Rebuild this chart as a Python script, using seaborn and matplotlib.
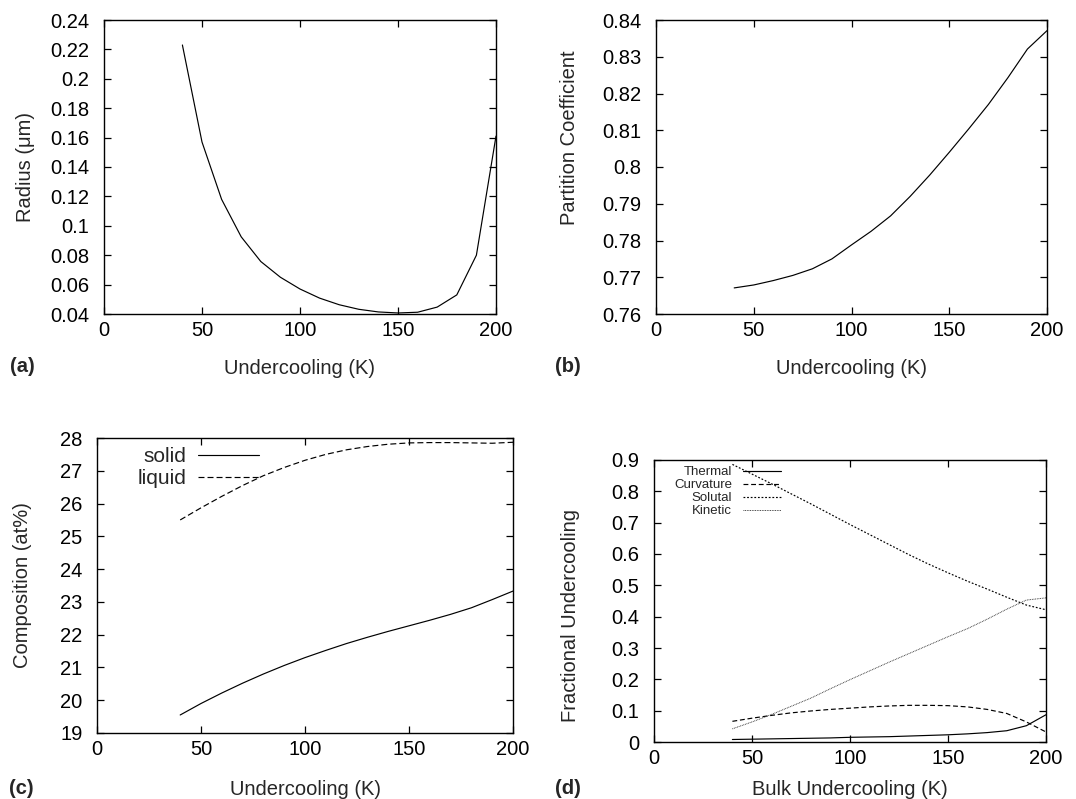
import numpy as np
import pandas as pd
import matplotlib
matplotlib.use("Agg")
import matplotlib.pyplot as plt
from matplotlib.ticker import FuncFormatter, MultipleLocator
import seaborn as sns

# ---------------- data ----------------
undercooling = [40, 50, 60, 70, 80, 90, 100, 110, 120, 130, 140, 150, 160, 170, 180, 190, 200]

radius_um = [0.223, 0.157, 0.118, 0.0925, 0.0757, 0.065, 0.057, 0.0508, 0.0463, 0.0432,
             0.0414, 0.0407, 0.0412, 0.0447, 0.053, 0.080, 0.161]

partition_coeff = [0.7671, 0.7679, 0.7691, 0.7705, 0.7723, 0.7750, 0.7788, 0.7825, 0.7867,
                   0.7920, 0.7978, 0.8040, 0.8104, 0.8170, 0.8243, 0.8321, 0.8371]

comp_solid = [19.55, 19.90, 20.22, 20.52, 20.80, 21.06, 21.30, 21.52, 21.73, 21.92, 22.10,
              22.27, 22.44, 22.62, 22.82, 23.07, 23.33]
comp_liquid = [25.50, 25.87, 26.22, 26.55, 26.85, 27.10, 27.32, 27.50, 27.64, 27.74, 27.81,
               27.85, 27.86, 27.86, 27.85, 27.84, 27.87]

frac_thermal = [0.008, 0.009, 0.010, 0.011, 0.012, 0.013, 0.015, 0.016, 0.017, 0.019, 0.021,
                0.023, 0.026, 0.030, 0.036, 0.052, 0.087]
frac_curvature = [0.066, 0.076, 0.085, 0.093, 0.099, 0.104, 0.108, 0.112, 0.115, 0.117, 0.117,
                  0.116, 0.112, 0.104, 0.091, 0.064, 0.032]
frac_solutal = [0.886, 0.855, 0.824, 0.792, 0.760, 0.727, 0.694, 0.662, 0.630, 0.598, 0.568,
                0.540, 0.513, 0.488, 0.462, 0.437, 0.422]
frac_kinetic = [0.042, 0.064, 0.088, 0.114, 0.140, 0.170, 0.199, 0.227, 0.255, 0.282, 0.309,
                0.336, 0.362, 0.392, 0.424, 0.453, 0.460]

xticks = [0, 50, 100, 150, 200]

# ---------------- style ----------------
sns.set_theme(style="ticks")
plt.rcParams["font.family"] = ["Liberation Sans", "DejaVu Sans"]
plt.rcParams["lines.scale_dashes"] = False

FS = 14.5
W, H = 1076, 799
fig = plt.figure(figsize=(W / 100, H / 100), dpi=100)


def rect(l, t, r, b):
    return [l / W, 1 - b / H, (r - l) / W, (b - t) / H]


fmt = FuncFormatter(lambda v, p: f"{round(v, 6):g}")


def style_axes(ax, ylim, ystep):
    ax.set_xlim(0, 200)
    ax.set_xticks(xticks)
    ax.set_ylim(*ylim)
    ax.yaxis.set_major_locator(MultipleLocator(ystep))
    ax.yaxis.set_major_formatter(fmt)
    ax.xaxis.set_major_formatter(fmt)
    ax.tick_params(direction="in", length=5, width=0.9, top=True, right=True,
                   labelsize=FS, colors="black")
    ax.tick_params(axis="y", pad=10.5)
    ax.tick_params(axis="x", pad=5)
    for s in ax.spines.values():
        s.set_visible(True)
        s.set_linewidth(1.0)
        s.set_color("black")
    ax.set_facecolor("white")


def set_labels(ax, xlabel, xy, ylabel, yx, yy=0.5):
    ax.set_xlabel(xlabel, fontsize=FS)
    ax.xaxis.set_label_coords(0.5, xy)
    ax.xaxis.label.set_va("center")
    ax.set_ylabel(ylabel, fontsize=FS)
    ax.yaxis.set_label_coords(yx, yy)
    ax.yaxis.label.set_va("center")


lw = 0.85

# (a)
ax_a = fig.add_axes(rect(104, 20, 496, 314))
sns.lineplot(x=undercooling, y=radius_um, ax=ax_a, color="black", linewidth=lw)
style_axes(ax_a, (0.04, 0.24), 0.02)
set_labels(ax_a, "Undercooling (K)", -0.187, "Radius (\u03bcm)", -0.2015)

# (b)
ax_b = fig.add_axes(rect(656, 20, 1047, 314))
sns.lineplot(x=undercooling, y=partition_coeff, ax=ax_b, color="black", linewidth=lw)
style_axes(ax_b, (0.76, 0.84), 0.01)
set_labels(ax_b, "Undercooling (K)", -0.187, "Partition Coefficient", -0.22, 0.6)

# (c)
ax_c = fig.add_axes(rect(97, 438, 513, 733))
sns.lineplot(x=undercooling, y=comp_solid, ax=ax_c, color="black", linewidth=lw,
             label="solid")
sns.lineplot(x=undercooling, y=comp_liquid, ax=ax_c, color="black", linewidth=lw,
             linestyle=(0, (4.3, 2.2)), label="liquid")
style_axes(ax_c, (19, 28), 1)
set_labels(ax_c, "Undercooling (K)", -0.19, "Composition (at%)", -0.178)
ax_c.legend(loc="upper left", bbox_to_anchor=(0.098, 0.97), frameon=False,
            markerfirst=False, fontsize=15, handlelength=2.9, handletextpad=0.55,
            labelspacing=0.15, borderaxespad=0, borderpad=0)

# (d)
ax_d = fig.add_axes(rect(654, 460, 1046, 742))
sns.lineplot(x=undercooling, y=frac_thermal, ax=ax_d, color="black", linewidth=lw,
             label="Thermal")
sns.lineplot(x=undercooling, y=frac_curvature, ax=ax_d, color="black", linewidth=lw,
             linestyle=(0, (3.5, 2.0)), label="Curvature")
sns.lineplot(x=undercooling, y=frac_solutal, ax=ax_d, color="black", linewidth=lw,
             linestyle=(0, (1.3, 1.3)), label="Solutal")
sns.lineplot(x=undercooling, y=frac_kinetic, ax=ax_d, color="#333333", linewidth=0.7,
             linestyle=(0, (0.6, 0.6)), label="Kinetic")
style_axes(ax_d, (0, 0.9), 0.1)
set_labels(ax_d, "Bulk Undercooling (K)", -0.167, "Fractional Undercooling", -0.214, 0.447)
ax_d.legend(loc="upper left", bbox_to_anchor=(0.051, 0.978), frameon=False,
            markerfirst=False, fontsize=9.5, handlelength=2.9, handletextpad=0.83,
            labelspacing=0.05, borderaxespad=0, borderpad=0)

# panel labels
for txt, x, y in [("(a)", 10, 367), ("(b)", 555, 367), ("(c)", 9, 788), ("(d)", 555, 788)]:
    fig.text(x / W, 1 - y / H, txt, fontsize=FS, fontweight="bold", ha="left", va="center")

fig.savefig("out.png", dpi=100, facecolor="white")
